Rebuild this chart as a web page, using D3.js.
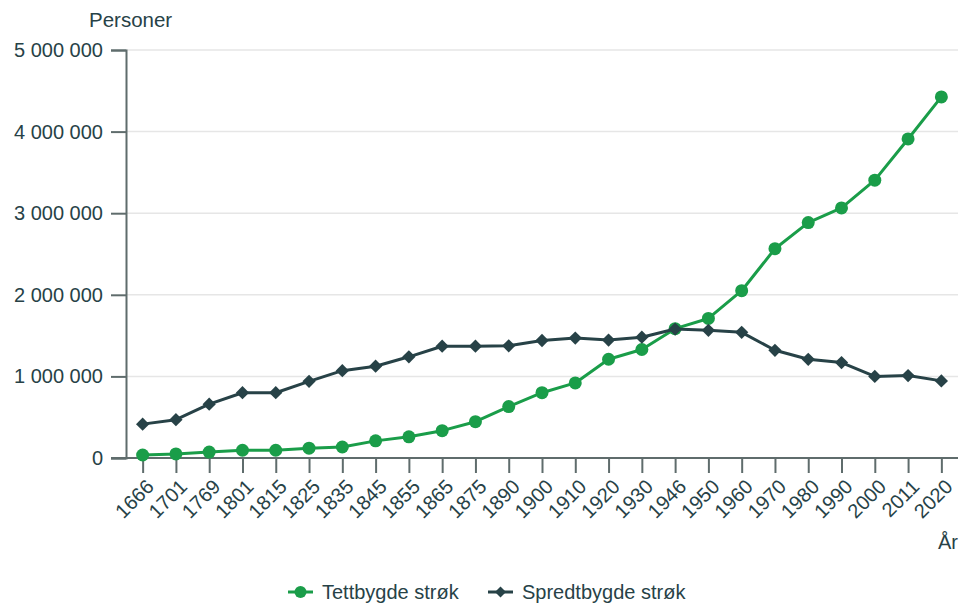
<!DOCTYPE html>
<html>
<head>
<meta charset="utf-8">
<script src="https://cdn.jsdelivr.net/npm/d3@7"></script>
<style>
  html, body { margin: 0; padding: 0; background: #fff; }
  svg { display: block; font-family: "Liberation Sans", Arial, sans-serif; }
</style>
</head>
<body>
<svg id="chart" width="959" height="604"></svg>
<script>
// Folketall i tettbygde og spredtbygde strøk
const years = ["1666","1701","1769","1801","1815","1825","1835","1845","1855","1865","1875","1890",
               "1900","1910","1920","1930","1946","1950","1960","1970","1980","1990","2000","2011","2020"];

const tettbygde = [37000, 50000, 73000, 95000, 95000, 120000, 135000, 210000, 260000, 335000, 445000, 630000,
                   800000, 920000, 1210000, 1330000, 1585000, 1710000, 2050000, 2565000, 2885000, 3065000, 3405000, 3910000, 4425000];

const spredtbygde = [415000, 470000, 660000, 800000, 800000, 940000, 1070000, 1125000, 1240000, 1370000, 1370000, 1375000,
                     1440000, 1470000, 1445000, 1480000, 1580000, 1565000, 1540000, 1320000, 1210000, 1170000, 1000000, 1010000, 945000];

const yTicks = [0, 1000000, 2000000, 3000000, 4000000, 5000000];

const seriesNames = ["Tettbygde strøk", "Spredtbygde strøk"];
const seriesColors = ["#1a9d49", "#274247"];

const textColor = "#274247";
const axisColor = "#5f6c6c";
const gridColor = "#e6e6e6";
const fontFamily = "'Liberation Sans', Arial, sans-serif";

const svg = d3.select("#chart");
const plotLeft = 126, plotRight = 958, plotTop = 50, plotBottom = 458;

const x = d3.scalePoint().domain(years).range([plotLeft, plotRight]).padding(0.5);
const y = d3.scaleLinear().domain([0, 5000000]).range([plotBottom, plotTop]);

const nb = d3.formatLocale({ decimal: ",", thousands: " ", grouping: [3], currency: ["", ""] });
const fmt = nb.format(",d");

// Horisontale hjelpelinjer
svg.append("g")
  .selectAll("line")
  .data(yTicks.filter(d => d > 0))
  .join("line")
  .attr("x1", plotLeft).attr("x2", plotRight)
  .attr("y1", d => y(d)).attr("y2", d => y(d))
  .attr("stroke", gridColor).attr("stroke-width", 1.5);

// Y-akse
const yAxis = svg.append("g")
  .attr("transform", `translate(${plotLeft},0)`)
  .call(d3.axisLeft(y).tickValues(yTicks).tickFormat(fmt).tickSize(15).tickPadding(8));
yAxis.select(".domain").attr("stroke", axisColor).attr("stroke-width", 2);
yAxis.selectAll(".tick line").attr("stroke", axisColor).attr("stroke-width", 2);
yAxis.selectAll(".tick text")
  .attr("fill", textColor).style("font-size", "20px").style("font-family", fontFamily);

// X-akse
const xAxis = svg.append("g")
  .attr("transform", `translate(0,${plotBottom})`)
  .call(d3.axisBottom(x).tickSize(15).tickSizeOuter(0));
xAxis.select(".domain").attr("stroke", axisColor).attr("stroke-width", 2)
  .attr("d", `M${plotLeft - 15},0H${plotRight}`);
xAxis.selectAll(".tick line").attr("stroke", axisColor).attr("stroke-width", 2);
xAxis.selectAll(".tick text")
  .attr("fill", textColor).style("font-size", "20px").style("font-family", fontFamily)
  .attr("text-anchor", "end")
  .attr("transform", "translate(7,25) rotate(-45)")
  .attr("x", 0).attr("y", 0).attr("dy", "0.35em");

// Aksetitler
svg.append("text")
  .attr("x", 89).attr("y", 27)
  .attr("fill", textColor).style("font-size", "20.5px")
  .text("Personer");

svg.append("text")
  .attr("x", 958).attr("y", 549).attr("text-anchor", "end")
  .attr("fill", textColor).style("font-size", "20px")
  .text("År");

// Linjer og markører
const series = [tettbygde, spredtbygde];
const line = d3.line().x((d, i) => x(years[i])).y(d => y(d));
const diamond = d3.symbol().type(d3.symbolSquare).size(88);

series.forEach((vals, si) => {
  const g = svg.append("g");
  g.append("path")
    .datum(vals)
    .attr("d", line)
    .attr("fill", "none")
    .attr("stroke", seriesColors[si])
    .attr("stroke-width", 3)
    .attr("stroke-linejoin", "round");
  if (si === 0) {
    g.selectAll("circle")
      .data(vals)
      .join("circle")
      .attr("cx", (d, i) => x(years[i]))
      .attr("cy", d => y(d))
      .attr("r", 6.5)
      .attr("fill", seriesColors[si]);
  } else {
    g.selectAll("path.m")
      .data(vals)
      .join("path")
      .attr("class", "m")
      .attr("d", diamond)
      .attr("transform", (d, i) => `translate(${x(years[i])},${y(d)}) rotate(45)`)
      .attr("fill", seriesColors[si]);
  }
});

// Tegnforklaring
const legendItems = [
  { name: seriesNames[0], color: seriesColors[0], x0: 288, type: "circle" },
  { name: seriesNames[1], color: seriesColors[1], x0: 488, type: "diamond" }
];
const lg = svg.append("g");
legendItems.forEach(it => {
  const cy = 592;
  lg.append("line")
    .attr("x1", it.x0).attr("x2", it.x0 + 25)
    .attr("y1", cy).attr("y2", cy)
    .attr("stroke", it.color).attr("stroke-width", 3);
  if (it.type === "circle") {
    lg.append("circle").attr("cx", it.x0 + 12.5).attr("cy", cy).attr("r", 6).attr("fill", it.color);
  } else {
    lg.append("path").attr("d", d3.symbol().type(d3.symbolSquare).size(60))
      .attr("transform", `translate(${it.x0 + 12.5},${cy}) rotate(45)`).attr("fill", it.color);
  }
  lg.append("text")
    .attr("x", it.x0 + 34).attr("y", cy).attr("dy", "0.35em")
    .attr("fill", textColor).style("font-size", "20px")
    .text(it.name);
});
</script>
</body>
</html>
